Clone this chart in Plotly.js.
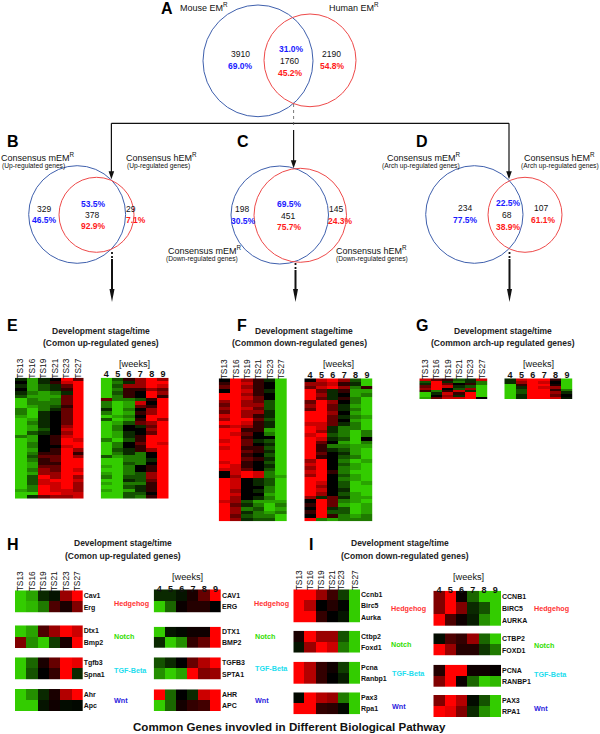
<!DOCTYPE html>
<html><head><meta charset="utf-8">
<script src="https://cdn.plot.ly/plotly-3.0.1.min.js"></script>
<style>html,body{margin:0;padding:0;background:#fff}</style></head>
<body><div id="chart" style="width:600px;height:734px"></div>
<script>
// ---------- data ----------
const stages = ['TS13','TS16','TS19','TS21','TS23','TS27'];
const weeks = ['4','5','6','7','8','9'];
const pathways = ['Hedgehog','Notch','TGF-Beta','Wnt'];

const vennA = ['3910','69.0%','31.0%','1760','45.2%','2190','54.8%'];
const vennB = ['329','46.5%','53.5%','378','92.9%','29','7.1%'];
const vennC = ['198','30.5%','69.5%','451','75.7%','145','24.3%'];
const vennD = ['234','77.5%','22.5%','68','38.9%','107','61.1%'];

const eLeft = [
[-1,-4,-1,0,5,2],[0,-4,-1,1,4,5],[-1,-4,-2,-1,2,5],[0,-4,-2,-1,1,5],[-1,-3,-4,-3,-1,5],[-2,-4,-4,-4,2,5],
[-5,-3,-4,-3,2,5],[-5,-3,-3,-3,2,5],[-5,-4,-3,-2,1,5],[-3,-5,-3,-1,2,5],[-3,-5,-1,0,2,5],[-4,-5,-1,0,2,5],
[-5,-4,-1,0,2,5],[-5,-3,-1,0,2,5],[-5,-4,-1,0,3,5],[-5,-4,-2,0,4,5],[-5,-2,-1,0,3,5],[-3,-4,0,1,4,5],
[-5,-4,0,1,5,4],[-5,-3,0,1,5,5],[-5,-3,0,0,4,5],[-5,-4,0,1,5,3],[-5,-3,1,1,5,1],[-5,-2,2,2,5,3],
[-5,-3,1,2,5,5],[-5,-4,1,1,5,5],[-5,-4,2,2,5,5],[-5,-3,3,2,5,4],[-5,-4,3,3,5,5],[-5,-2,5,3,5,3],
[-5,-2,4,5,5,4],[-5,-2,4,4,5,3],[-5,-3,5,4,5,3],[-4,-3,5,4,4,3],[-5,-5,5,5,4,4],[-5,-1,2,3,3,4]];
const eRight = [
[-5,-2,1,3,5,3],[-5,-3,-1,3,5,5],[-5,-2,3,3,5,4],[-5,-3,1,1,3,2],[-5,-2,1,0,5,3],[-5,-3,1,0,5,1],
[2,-3,-3,-2,1,5],[-3,-5,-4,4,0,5],[-3,-5,-4,2,1,5],[-1,-5,-3,0,3,5],[-3,-5,-4,1,3,5],[-5,-4,-3,0,5,5],
[-2,-5,-4,1,5,3],[-5,-4,-2,2,3,5],[-5,-3,0,-1,2,5],[-5,-3,0,0,3,5],[-5,-4,-1,0,2,5],[-5,-4,-1,1,5,5],
[-3,-5,-2,1,5,5],[-5,-3,0,2,5,4],[-5,-3,0,1,5,5],[-5,-2,-1,1,3,5],[-5,-3,-1,-3,0,5],[-2,-4,-3,-3,0,5],
[-5,-5,-3,-3,-1,5],[-5,-5,-2,-3,0,5],[-4,-5,-3,0,1,5],[-5,-5,-3,0,1,5],[-4,-5,-3,-2,3,5],[-3,-5,-2,-2,3,5],
[-5,-5,-1,-2,2,5],[-4,-5,-3,-3,1,5],[-5,-5,-2,-1,1,5],[-4,-5,-4,-1,1,5],[-5,-5,-2,-2,0,5],[-5,-5,-2,-3,1,5]];
const fLeft = [
[0,5,3,1,-1,-5],[1,5,4,1,0,-5],[2,5,3,1,0,-5],[0,5,4,1,-1,-5],[5,5,3,1,0,-5],[5,5,4,2,0,-5],
[3,5,3,2,-2,-5],[2,5,3,3,-2,-5],[3,5,4,2,-2,-5],[2,5,3,3,-1,-5],[4,5,3,1,-1,-5],[3,5,5,2,-2,-5],
[5,5,4,1,-1,-5],[3,4,3,1,-1,-5],[5,5,1,1,-4,-5],[5,4,2,0,-3,-5],[5,5,1,0,0,-5],[4,5,2,-1,-2,-5],
[5,5,2,0,-1,-5],[4,5,1,1,-2,-5],[5,5,2,1,-1,-5],[5,5,1,0,-2,-5],[5,5,2,1,-1,-5],[4,5,1,0,-2,-5],
[5,4,1,0,-1,-5],[4,4,2,0,-2,-5],[0,4,5,4,-3,-5],[0,3,5,4,-3,-4],[5,4,0,-1,-2,-5],[5,4,0,-1,-2,-5],
[5,4,0,0,-3,-5],[5,3,0,-1,-3,-5],[5,4,0,0,-4,-5],[5,3,0,-1,-3,-5],[4,3,-2,-4,-4,-4],[5,2,-1,-3,-5,-3],
[5,3,-3,-2,-5,-4],[5,3,-1,-3,-4,-3],[5,2,-2,-3,-3,-5],[5,3,-1,-2,-2,-5]];
const fRight = [
[0,4,5,3,-2,-5],[3,3,4,1,-1,-5],[2,4,5,3,-3,1],[5,2,-1,1,-4,-4],[5,3,-1,0,-4,-3],[5,2,-1,1,-3,-5],
[2,5,3,0,-3,-5],[3,5,2,-1,-4,-5],[2,5,2,-1,-3,-5],[5,5,3,0,-4,-5],[5,5,2,-1,-3,-4],[5,5,2,0,-4,-5],
[4,4,2,-1,-3,-5],[5,4,-1,-3,-3,-5],[5,3,-1,-3,-5,-3],[4,5,-2,-3,-5,-3],[5,4,-1,-2,-5,0],[5,2,0,-4,-5,-3],
[5,1,-3,-3,-4,-4],[5,1,-1,-2,-4,-5],[5,2,0,-1,-4,-5],[5,1,0,-2,-3,-5],[3,5,0,-3,-5,-4],[4,5,0,-2,-4,-5],
[3,5,0,-3,-4,-5],[4,5,1,-3,-5,-5],[3,5,0,-2,-4,-5],[5,5,0,-3,-4,-5],[5,4,0,-2,-5,-4],[5,3,0,-2,-5,-5],
[5,4,0,-1,-5,-5],[5,3,0,-2,-4,-5],[3,-1,2,-1,-4,-4],[0,5,2,-3,-4,-5],[1,5,2,-4,-5,-4],[0,5,-1,-2,-5,-4],
[1,5,-2,-2,-5,-4],[0,5,1,-3,-4,-3],[5,-3,-4,-3,-3,-3]];
const gLeft = [
[4,2,1,-2,-1,4],[-2,5,-1,-3,-1,-3],[-1,5,2,0,1,-3],[2,5,4,-1,-2,-5],[3,5,0,-2,3,-5],
[1,-3,1,4,-1,-5],[-5,-1,4,1,5,-5],[-5,0,3,-1,5,-5],[-4,2,4,4,5,0]];
const gRight = [
[-1,4,5,5,1,-5],[-1,3,5,4,0,-5],[-5,1,5,5,0.5,-5],[-5,-1,5,4,3,-5],
[-5,-2,5,5,1,-3],[-5,-2,5,5,3,-1],[-5,-1,5,5,2,0],[-5,-1,5,5,4,-0.5]];

const hMouseGenes = [['Cav1','Erg'],['Dtx1','Bmp2'],['Tgfb3','Spna1'],['Ahr','Apc']];
const hMouse = [
[[-5,-4,-1,-0.5,3,5],[-5,-4.5,-3,1.5,0.5,2.5]],
[[-5,-4,1.5,3,5,4],[2.5,-3.5,-5,-1.5,0.5,5]],
[[-5,-2.5,0.5,2,5,4.5],[-5,-2,0,1,5,-1]],
[[-5,-3.5,-1,0.5,3.5,5],[-5,-5,-0.5,0.3,-0.3,-0.2]]];
const hHumanGenes = [['CAV1','ERG'],['DTX1','BMP2'],['TGFB3','SPTA1'],['AHR','APC']];
const hHuman = [
[[-1,-1,-0.5,0.5,2,5],[-5,-2.5,0.2,0.7,0.7,0]],
[[-5,-0.5,-0.2,0.3,0.3,5],[-1,-5,-3.5,1,2,5]],
[[-2,-1,0,2,3.5,5],[-3.5,-5,-4,5,2.5,3]],
[[5,-2.5,0,-1,4,5],[-5,-2.5,0.4,1,1.3,5]]];
const iMouseGenes = [['Ccnb1','Birc5','Aurka'],['Ctbp2','Foxd1'],['Pcna','Ranbp1'],['Pax3','Rpa1']];
const iMouse = [
[[5,5,3,1.2,-1.5,-5],[5,3.5,0,0.7,-0.1,-5],[5,5,1,0,-0.5,-5]],
[[0.5,5,3,3,-2,-5],[-0.5,3,5,4,-3,-5]],
[[5,3.5,1,0.3,-1.5,-5],[5,3.5,1,0,-0.7,-5]],
[[-0.2,5,3.5,3,-3,-5],[5,5,1,0.8,-0.2,-5]]];
const iHumanGenes = [['CCNB1','BIRC5','AURKA'],['CTBP2','FOXD1'],['PCNA','RANBP1'],['PAX3','RPA1']];
const iHuman = [
[[2.5,5,0.2,-2.5,-5,-5],[2.5,5,2.5,-1,-2,-5],[5,1.5,0.3,-0.7,-3.5,-5]],
[[-0.3,1.5,1,3,-2.5,-5],[5,3,0.7,0.7,-1.3,-3]],
[[0.7,5,5,0.3,0.3,0.1],[2.5,5,0.2,-2.5,-5,-4.5]],
[[2.5,5,3.5,-0.3,-2,-5],[5,4.5,2.5,-1,-3.5,-5]]];

// ---------- helpers ----------
const W = 600, H = 734, FONT = 'Liberation Sans, Arial, sans-serif';
const BLUE = '#3f60ad', RED = '#ee4a4a', TXTBLUE = '#1a1aff', TXTRED = '#ff1a1a';
const PATHCOL = {'Hedgehog':'#ff3333','Notch':'#33dd00','TGF-Beta':'#22ddee','Wnt':'#2a22dd'};
const px = x => x / W, py = y => 1 - y / H;
const traces = [], annotations = [], shapes = [], layout = {};
let axisN = 0;

function heat(z, box, xLabels, yLabels, opt) {
  opt = opt || {};
  axisN++;
  const s = axisN === 1 ? '' : axisN;
  const idx = z[0].map((_, i) => i), rows = z.map((_, i) => i);
  traces.push({type:'heatmap', z:z, x:idx, y:rows, zmin:-5, zmax:5, showscale:false, hoverinfo:'skip',
    colorscale:[[0,'#33cc00'],[0.5,'#000000'],[1,'#ff0000']], xaxis:'x'+s, yaxis:'y'+s});
  layout['xaxis'+s] = {domain:[px(box[0]),px(box[1])], anchor:'y'+s, side:'top', range:[-0.5,5.5],
    showgrid:false, zeroline:false, showline:false, ticks:'', fixedrange:true,
    showticklabels:!!xLabels, tickvals:xLabels ? (opt.nudge ? idx.map((v,i)=>v+opt.nudge[i]) : idx) : [], ticktext:xLabels||[],
    tickangle:opt.vertical ? -90 : 0, ticklabelstandoff:opt.standoff === undefined ? -2 : opt.standoff,
    tickfont:{family:FONT,size:opt.vertical?8.4:9,color:'#111',weight:opt.vertical?'normal':'bold'}};
  layout['yaxis'+s] = {domain:[py(box[3]),py(box[2])], anchor:'x'+s, side:'right', range:[z.length-0.5,-0.5],
    showgrid:false, zeroline:false, showline:false, ticks:'', fixedrange:true,
    showticklabels:!!yLabels, tickvals:yLabels ? rows : [], ticktext:yLabels||[],
    tickfont:{family:FONT,size:7,color:'#111',weight:'bold'}};
}
function txt(text, x, y, o) {
  o = o || {};
  annotations.push({text:text, xref:'paper', yref:'paper', x:px(x), y:py(y), showarrow:false,
    xanchor:o.a||'center', yanchor:'middle', borderpad:0,
    font:{family:FONT,size:o.s||9,color:o.c||'#111',weight:o.b?'bold':'normal'}});
}
function ell(x0,x1,y0,y1,c) {
  shapes.push({type:'circle',xref:'paper',yref:'paper',x0:px(x0),x1:px(x1),y0:py(y0),y1:py(y1),
    line:{color:c,width:1},fillcolor:'rgba(0,0,0,0)'});
}
function line(x0,y0,x1,y1,w,dash,c) {
  shapes.push({type:'line',xref:'paper',yref:'paper',x0:px(x0),x1:px(x1),y0:py(y0),y1:py(y1),
    line:{color:c||'#111',width:w,dash:dash||'solid'}});
}
function head(x,y,hw,hl) {
  shapes.push({type:'path',xref:'paper',yref:'paper',fillcolor:'#111',line:{width:0},
    path:`M ${px(x-hw)} ${py(y-hl)} L ${px(x+hw)} ${py(y-hl)} L ${px(x)} ${py(y)} Z`});
}
function venn(v, pos) {
  const cols = ['#111',TXTBLUE,TXTBLUE,'#111',TXTRED,'#111',TXTRED];
  v.forEach((t,i)=> txt(t,pos[i][0],pos[i][1],{s:8.5,c:cols[i],b:i!==0&&i!==3&&i!==5}));
}

// ---------- venn diagrams ----------
ell(203,313,5,116.7,BLUE); ell(264,356,14,106.7,RED);
ell(28.7,125.6,165.7,263.3,BLUE); ell(59,134,177.3,252.3,RED);
ell(231,328.5,166,264,BLUE); ell(254,346.5,168.3,262.3,RED);
ell(425.7,523,165.7,263.3,BLUE); ell(488,562,177.3,252.3,RED);
venn(vennA,[[240.4,54.3],[240.8,66],[291,49],[289.8,61],[290.6,72.7],[331,54.3],[332,66]]);
venn(vennB,[[44.4,208.7],[44.8,220],[93,203.7],[92,215.3],[93,226.3],[131.3,208.7],[136,220]]);
venn(vennC,[[242.3,209],[243,221],[289.8,204],[288,216],[289.8,227.3],[336,209],[340.4,221]]);
venn(vennD,[[465,208.3],[465.5,220],[508.4,203.3],[507,215.3],[508,226.7],[541.3,208.3],[543,220]]);

const big = {s:16,b:true,c:'#000'};
txt('A',167,8.6,big); txt('B',13.4,141,big); txt('C',243,141,big); txt('D',422,141,big);
txt('E',12.7,325.7,big); txt('F',242,325.7,big); txt('G',422,325.7,big); txt('H',13,544.3,big); txt('I',311,544,big);

const sup = t => t + '<sup>R</sup>';
txt(sup('Mouse EM'),179,6.7,{a:'left'}); txt(sup('Human EM'),328.4,6.7,{a:'left'});
txt(sup('Consensus mEM'),0.2,156.7,{a:'left'}); txt(sup('Consensus hEM'),125,157,{a:'left'});
txt(sup('Consensus mEM'),167,250,{a:'left'}); txt(sup('Consensus hEM'),335.2,250,{a:'left'});
txt(sup('Consensus mEM'),385.7,156.7,{a:'left'}); txt(sup('Consensus hEM'),523.4,157,{a:'left'});
const sub = {s:6.7};
txt('(Up-regulated genes)',33,165.7,sub); txt('(Up-regulated genes)',158.5,166,sub);
txt('(Down-regulated genes)',202,259,sub); txt('(Down-regulated genes)',372,259,sub);
txt('(Arch up-regulated genes)',420.8,165.7,sub); txt('(Arch up-regulated genes)',560,166,sub);

// ---------- connectors ----------
line(111.4,123.3,509,123.3,1.3);
line(111.4,123.3,111.4,174,1.2); head(111.4,179.3,2.8,8);
line(293.6,104,293.6,128,0.8,'dot','#555');
line(293.6,130,293.6,162,1.2); head(293.6,168.3,2.8,8);
line(509,123.3,509,174,1.2); head(509,179.3,2.8,8);
[[112,252],[295.5,263],[509.5,252]].forEach(a=>{
  line(a[0],a[1],a[0],a[1]+6,1.8,'2px,2px');
  line(a[0],a[1]+7,a[0],292,2); head(a[0],302,2.5,13);
});

// ---------- large heat panels ----------
const v = {vertical:true};
heat(eLeft,[15,83.5,377.7,498.7],stages,null,v);
heat(eRight,[100.7,168.7,377.7,498.7],weeks,null);
heat(fLeft,[218.7,287,378.3,521.3],stages,null,v);
heat(fRight,[304.3,372.7,378.3,521.3],weeks,null);
heat(gLeft,[419.3,487.7,378.3,399],stages,null,v);
heat(gRight,[504.3,572.7,378.3,399],weeks,null);

const hd = {s:8.5,b:true,c:'#222'};
txt('Development stage/time',101.3,330.7,hd); txt('(Comon up-regulated genes)',100.7,343.3,hd);
txt('Development stage/time',303.5,330.7,hd); txt('(Common down-regulated genes)',299,343.3,hd);
txt('Development stage/time',503.3,330.7,hd); txt('(Common arch-up regulated genes)',502.7,343.3,hd);
txt('Development stage/time',123.3,543.3,hd); txt('(Comon up-regulated genes)',123.3,556,hd);
txt('Development stage/time',400,543,hd); txt('(Comon down-regulated genes)',405.3,556,hd);
[[134,363.5],[338.7,363.5],[538,363.5],[187.3,576.5],[468.3,576.8]].forEach(p=>txt('[weeks]',p[0],p[1],{s:9.2}));

// ---------- pathway panels ----------
const rowsHL=[[590.3,612.7],[625.3,648],[657.3,679.7],[689,711]];
const rowsHR=[[589.3,612.7],[626.7,648],[657.3,679.7],[689.3,711]];
const rowsIL=[[589.3,622.7],[630.7,652.7],[661.7,684],[692.3,714.3]];
const rowsIR=[[590.7,626],[633.3,655.7],[664.7,687],[695,717]];
const close = {standoff:-5};
hMouse.forEach((z,i)=>heat(z,[15,82.7,rowsHL[i][0],rowsHL[i][1]],i?null:stages,hMouseGenes[i],v));
hHuman.forEach((z,i)=>heat(z,[153.7,221,rowsHR[i][0],rowsHR[i][1]],i?null:weeks,hHumanGenes[i],close));
iMouse.forEach((z,i)=>heat(z,[293.3,360,rowsIL[i][0],rowsIL[i][1]],i?null:stages,iMouseGenes[i],{vertical:true,nudge:[0,0,0,0,-0.15,0.1]}));
iHuman.forEach((z,i)=>heat(z,[433.3,501,rowsIR[i][0],rowsIR[i][1]],i?null:weeks,iHumanGenes[i],close));

const pathPos = [
 [[113,603.3],[113,636.7],[113,670.3],[113,700.7]],
 [[253,603.7],[254.4,636.3],[254.4,668.3],[254.4,700.7]],
 [[390,608],[390,644.3],[390.7,673.3],[390.7,706]],
 [[533,608.7],[533,645],[533,674],[533.4,708]]];
pathPos.forEach(col=>col.forEach((p,i)=>txt(pathways[i],p[0],p[1],{a:'left',s:7.2,b:true,c:PATHCOL[pathways[i]]})));

txt('Common Genes invovled in Different Biological Pathway',289,726.7,{s:11.6,b:true,c:'#111'});

Object.assign(layout,{width:W,height:H,margin:{l:0,r:0,t:0,b:0,pad:0},paper_bgcolor:'#fff',plot_bgcolor:'#fff',
  showlegend:false,annotations:annotations,shapes:shapes,font:{family:FONT}});
Plotly.newPlot('chart',traces,layout,{displayModeBar:false,staticPlot:true});
</script></body></html>
